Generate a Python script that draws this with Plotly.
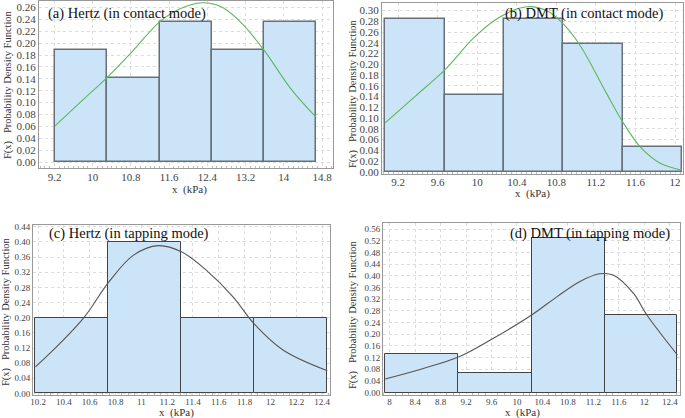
import plotly.graph_objects as go

# (a) Hertz, contact mode
a_edges = [9.21, 10.30, 11.40, 12.49, 13.59, 14.68]
a_pdf = [0.188, 0.142, 0.236, 0.188, 0.236]
a_fit_x = [9.21, 9.80, 10.31, 10.85, 11.40, 11.83, 12.28, 12.67, 13.09, 13.59, 14.14, 14.68]
a_fit_y = [0.061, 0.105, 0.143, 0.188, 0.236, 0.258, 0.268, 0.262, 0.236, 0.188, 0.124, 0.075]

# (b) DMT, contact mode
b_edges = [9.07, 9.67, 10.27, 10.87, 11.47, 12.07]
b_pdf = [0.285, 0.142, 0.285, 0.237, 0.046]
b_fit_x = [9.07, 9.37, 9.67, 9.97, 10.22, 10.50, 10.70, 10.87, 11.04, 11.31, 11.47, 11.65, 11.85, 12.07]
b_fit_y = [0.091, 0.140, 0.189, 0.250, 0.287, 0.307, 0.300, 0.275, 0.235, 0.145, 0.093, 0.046, 0.016, 0.003]

# (c) Hertz, tapping mode
c_edges = [10.18, 10.745, 11.31, 11.875, 12.44]
c_pdf = [0.20, 0.40, 0.20, 0.20]
c_fit_x = [10.18, 10.37, 10.56, 10.75, 10.94, 11.13, 11.31, 11.50, 11.71, 11.87, 12.10, 12.44]
c_fit_y = [0.070, 0.132, 0.202, 0.295, 0.365, 0.390, 0.374, 0.326, 0.255, 0.185, 0.114, 0.060]

# (d) DMT, tapping mode
d_edges = [7.93, 9.08, 10.23, 11.375, 12.52]
d_pdf = [0.133, 0.066, 0.531, 0.266]
d_fit_x = [7.93, 8.53, 9.09, 9.58, 10.23, 10.63, 10.99, 11.30, 11.51, 11.83, 12.04, 12.52]
d_fit_y = [0.047, 0.083, 0.123, 0.180, 0.266, 0.329, 0.381, 0.407, 0.403, 0.340, 0.266, 0.129]

W, H = 685, 418
SERIF = "Liberation Serif"

panels = [
    dict(e=a_edges, p=a_pdf, fx=a_fit_x, fy=a_fit_y, cc="#5cb85c", bl="#67707a", blw=1.5,
         xr=[8.875, 15.03], yr=[-0.010, 0.271], xd=0.8, x0=9.2, yd=0.02, box=(39, 333, 1, 168), tf=11, so=-1,
         title="(a) Hertz (in contact mode)", tpos=(46, 14), xt=(189, 189), yt=(8, 85)),
    dict(e=b_edges, p=b_pdf, fx=b_fit_x, fy=b_fit_y, cc="#5cb85c", bl="#67707a", blw=1.5,
         xr=[9.038, 12.08], yr=[-0.004, 0.314], xd=0.4, x0=9.2, yd=0.02, box=(382, 683, 3, 174), tf=11, so=-2,
         title="(b) DMT (in contact mode)", tpos=(503, 14), xt=(532, 193), yt=(353, 93)),
    dict(e=c_edges, p=c_pdf, fx=c_fit_x, fy=c_fit_y, cc="#555555", bl="#444444", blw=1,
         xr=[10.161, 12.461], yr=[-0.004, 0.4445], xd=0.2, x0=10.2, yd=0.04, box=(33, 330, 225, 395), tf=9, so=-2,
         title="(c) Hertz (in tapping mode)", tpos=(47, 233), xt=(176, 412), yt=(6, 312)),
    dict(e=d_edges, p=d_pdf, fx=d_fit_x, fy=d_fit_y, cc="#555555", bl="#444444", blw=1,
         xr=[7.896, 12.56], yr=[-0.008, 0.581], xd=0.4, x0=8, yd=0.04, box=(383, 680, 223, 395), tf=9, so=-2,
         title="(d) DMT (in tapping mode)", tpos=(508, 233), xt=(522, 412), yt=(353, 314)),
]

fig = go.Figure()
layout = {}
annotations = []

for i, pn in enumerate(panels, start=1):
    sfx = "" if i == 1 else str(i)
    xa, ya = "x" + sfx, "y" + sfx
    edges = pn["e"]
    centers = [(edges[k] + edges[k + 1]) / 2 for k in range(len(pn["p"]))]
    widths = [edges[k + 1] - edges[k] for k in range(len(pn["p"]))]

    fig.add_trace(go.Bar(x=centers, y=pn["p"], width=widths, xaxis=xa, yaxis=ya,
                         marker=dict(color="#cce4f8", line=dict(color=pn["bl"], width=pn["blw"])),
                         showlegend=False, hoverinfo="skip"))
    fig.add_trace(go.Scatter(x=pn["fx"], y=pn["fy"], mode="lines", xaxis=xa, yaxis=ya,
                             line=dict(color=pn["cc"], width=1.1, shape="spline", smoothing=1.0),
                             showlegend=False, hoverinfo="skip"))

    l, r, t, b = pn["box"]
    tickfont = dict(family=SERIF, size=pn["tf"], color="#444")
    layout["xaxis" + sfx] = dict(
        domain=[l / W, r / W], anchor=ya, range=pn["xr"], tick0=pn["x0"], dtick=pn["xd"],
        showline=True, mirror=True, linecolor="#999", linewidth=1,
        showgrid=True, gridcolor="#dcdcdc", griddash="dot", zeroline=False,
        ticks="", tickfont=tickfont, ticklabelstandoff=pn["so"],
        minor=dict(ticks="inside", ticklen=2, tickcolor="#bbb", dtick=pn["xd"] / 8 if i < 3 else pn["xd"] / 4, showgrid=False),
    )
    layout["yaxis" + sfx] = dict(
        domain=[1 - b / H, 1 - t / H], anchor=xa, range=pn["yr"], tick0=0, dtick=pn["yd"],
        tickformat=".2f", showline=True, mirror=True, linecolor="#999", linewidth=1,
        showgrid=True, gridcolor="#dcdcdc", griddash="dot", zeroline=False,
        ticks="", tickfont=tickfont,
    )

    annotations.append(dict(text=pn["title"], x=pn["tpos"][0] / W, y=1 - pn["tpos"][1] / H,
                            xref="paper", yref="paper", xanchor="left", yanchor="middle", showarrow=False,
                            font=dict(family=SERIF, size=14.5, color="#111")))
    annotations.append(dict(text="x\u00a0\u00a0(kPa)", x=pn["xt"][0] / W, y=1 - pn["xt"][1] / H,
                            xref="paper", yref="paper", xanchor="center", yanchor="middle", showarrow=False,
                            font=dict(family=SERIF, size=11, color="#333")))
    annotations.append(dict(text="F(x)\u00a0\u00a0\u00a0Probability Density Function",
                            x=pn["yt"][0] / W, y=1 - pn["yt"][1] / H, textangle=-90,
                            xref="paper", yref="paper", xanchor="center", yanchor="middle", showarrow=False,
                            font=dict(family=SERIF, size=10.5, color="#333")))

fig.update_layout(
    width=W, height=H,
    margin=dict(l=0, r=0, t=0, b=0, autoexpand=False),
    paper_bgcolor="white", plot_bgcolor="white",
    bargap=0, annotations=annotations, **layout,
)

# page body has an 8px default margin; drop it so the figure fills the window
fig.write_html("out.html", config={"displayModeBar": False},
               post_script="document.body.style.margin='0px';document.body.style.overflow='hidden';")
